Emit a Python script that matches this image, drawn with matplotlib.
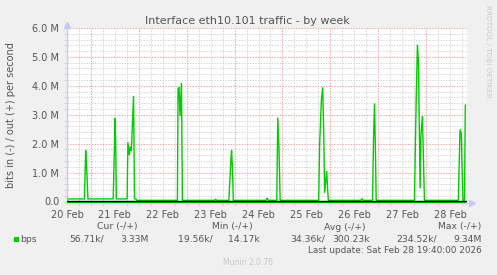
import matplotlib
matplotlib.use('Agg')
import matplotlib.pyplot as plt
import numpy as np

# ---------------- data ----------------
title = "Interface eth10.101 traffic - by week"
ylabel = "bits in (-) / out (+) per second"
day_labels = ["20 Feb", "21 Feb", "22 Feb", "23 Feb", "24 Feb", "25 Feb", "26 Feb", "27 Feb", "28 Feb"]
day_label_pos = [20.5, 21.5, 22.5, 23.5, 24.5, 25.5, 26.5, 27.5, 28.5]
y_ticks = [0, 1e6, 2e6, 3e6, 4e6, 5e6, 6e6]
y_tick_labels = ["0.0", "1.0 M", "2.0 M", "3.0 M", "4.0 M", "5.0 M", "6.0 M"]

# out (+) traffic, time in day-of-February, value in bits/s
out_day = [20.521, 20.625, 20.865, 20.890, 20.906, 20.938,
           21.465, 21.485, 21.506, 21.517, 21.531,
           21.756, 21.771, 21.802, 21.823, 21.844, 21.890, 21.910, 21.9375, 21.958,
           22.806, 22.819, 22.840, 22.860, 22.890, 22.910,
           23.583, 23.604, 23.625,
           23.881, 23.906, 23.927, 23.9375, 23.958, 23.973,
           24.656, 24.681, 24.708,
           24.881, 24.902, 24.927, 24.952,
           25.756, 25.777, 25.8125, 25.840, 25.860, 25.881, 25.923, 25.9375, 25.958,
           26.635, 26.660, 26.6875,
           26.881, 26.902, 26.923, 26.944, 26.958,
           27.756, 27.792, 27.819, 27.840, 27.875, 27.892, 27.923, 27.944, 27.965,
           28.673, 28.708, 28.735, 28.750, 28.771, 28.802, 28.819]
out_bps = [0.09e6, 0.09e6, 0.09e6, 1.77e6, 1.30e6, 0.09e6,
           0.09e6, 1.50e6, 2.89e6, 2.00e6, 0.09e6,
           0.09e6, 2.05e6, 1.60e6, 1.90e6, 1.75e6, 3.65e6, 0.09e6, 0.09e6, 0.04e6,
           0.04e6, 3.90e6, 3.95e6, 2.95e6, 4.10e6, 0.04e6,
           0.04e6, 0.08e6, 0.04e6,
           0.04e6, 0.90e6, 1.55e6, 1.77e6, 1.00e6, 0.04e6,
           0.04e6, 0.12e6, 0.04e6,
           0.04e6, 2.90e6, 1.80e6, 0.04e6,
           0.04e6, 2.00e6, 3.50e6, 3.95e6, 2.50e6, 0.30e6, 1.05e6, 0.60e6, 0.04e6,
           0.04e6, 0.10e6, 0.04e6,
           0.04e6, 2.20e6, 3.39e6, 1.50e6, 0.04e6,
           0.04e6, 3.50e6, 5.42e6, 4.80e6, 0.45e6, 2.30e6, 2.96e6, 1.50e6, 0.04e6,
           0.04e6, 2.49e6, 2.35e6, 1.20e6, 0.04e6, 0.04e6, 3.33e6]

# in (-) traffic, drawn negative
in_day = [20.521, 28.819]
in_bps = [-0.03e6, -0.03e6]

legend_headers = ["Cur (-/+)", "Min (-/+)", "Avg (-/+)", "Max (-/+)"]
legend_values_in = ["56.71k/", "19.56k/", "34.36k/", "234.52k/"]
legend_values_out = ["3.33M", "14.17k", "300.23k", "9.34M"]
series_name = "bps"
last_update = "Last update: Sat Feb 28 19:40:00 2026"
munin_ver = "Munin 2.0.76"
rrd_credit = "RRDTOOL / TOBI OETIKER"

# ---------------- figure ----------------
W, H = 497, 275
fig = plt.figure(figsize=(W / 100, H / 100), dpi=100, facecolor='#F0F0F0')
plt.rcParams['font.family'] = ['DejaVu Sans']

def fx(px):
    return px / W

def fy(py):
    return 1 - py / H

ax = fig.add_axes([fx(67), fy(203), 400 / W, 175 / H])
ax.set_facecolor('white')
x0, x1 = 20.521, 28.854
ax.set_xlim(x0, x1)
ax.set_ylim(-0.052e6, 6.0e6)

TXT = '#555555'
MAJ = '#F2A0A0'
MIN = '#D4D4D4'
dash = (0, (1.4, 1.4))
FS = 6.7

# grid
for d in np.arange(20.75, 28.9, 0.25):
    major = abs(d - round(d)) < 1e-6
    ax.axvline(d, color=MAJ if major else MIN, lw=0.7, ls=dash, zorder=0)
for v in np.arange(0.2e6, 6.01e6, 0.2e6):
    major = abs(v / 1e6 - round(v / 1e6)) < 1e-6
    ax.axhline(v, color=MAJ if major else MIN, lw=0.7, ls=dash, zorder=0)

# series
green = '#00CC00'
ax.plot(out_day, out_bps, color=green, lw=1.0, zorder=3, solid_joinstyle='miter')
ax.plot(in_day, in_bps, color=green, lw=1.0, zorder=3)
ax.axhline(0, color='black', lw=1.0, zorder=4)

# axes styling
for s in ['top', 'right']:
    ax.spines[s].set_visible(False)
axis_col = '#C8C8F6'
ax.spines['left'].set_color(axis_col)
ax.spines['bottom'].set_color(axis_col)
ax.spines['left'].set_linewidth(1.0)
ax.spines['bottom'].set_linewidth(1.0)
ax.plot([0], [1.02], marker='^', color=axis_col, markersize=5, transform=ax.transAxes, clip_on=False)
ax.plot([1.012], [0], marker='>', color=axis_col, markersize=5, transform=ax.transAxes, clip_on=False)

ax.set_xticks(day_label_pos)
ax.set_xticklabels(day_labels)
ax.set_yticks(y_ticks)
ax.set_yticklabels(y_tick_labels)
ax.tick_params(axis='both', length=0, labelsize=7, colors=TXT)
ax.tick_params(axis='y', pad=5.6)
ax.tick_params(axis='x', pad=5)
ax.set_xticks(np.arange(20.75, 28.9, 0.25), minor=True)
ax.set_yticks(np.arange(0.2e6, 6.01e6, 0.2e6), minor=True)
ax.tick_params(which='minor', length=2, color=MIN, width=0.7)

fig.text(fx(11), fy(115), ylabel, rotation=90, ha='center', va='center', fontsize=7, color=TXT)
fig.text(fx(247.5), fy(24.5), title, ha='center', va='baseline', fontsize=8, color=TXT)
fig.text(fx(488), fy(51), rrd_credit, rotation=270, ha='center', va='center', fontsize=5.2, color='#CACACA')

# legend
header_x = [117, 232, 345, 460]
for hx, t in zip(header_x, legend_headers):
    fig.text(fx(hx), fy(227), t, ha='center', va='center', fontsize=FS, color=TXT)
fig.patches.append(plt.Rectangle((fx(14), fy(242)), 5 / W, 5 / H, transform=fig.transFigure,
                                 facecolor=green, edgecolor='none'))
fig.text(fx(20), fy(239.5), series_name, ha='left', va='center', fontsize=FS, color=TXT)
in_right = [104, 213, 325, 437]
out_right = [149, 260, 370, 482]
for xr, t in zip(in_right, legend_values_in):
    fig.text(fx(xr), fy(239.5), t, ha='right', va='center', fontsize=FS, color=TXT)
for xr, t in zip(out_right, legend_values_out):
    fig.text(fx(xr), fy(239.5), t, ha='right', va='center', fontsize=FS, color=TXT)
fig.text(fx(482), fy(250.5), last_update, ha='right', va='center', fontsize=6.4, color=TXT)
fig.text(fx(248), fy(262.5), munin_ver, ha='center', va='center', fontsize=5.5, color='#C8C8C8')

fig.savefig('out.png', dpi=100, facecolor=fig.get_facecolor())
